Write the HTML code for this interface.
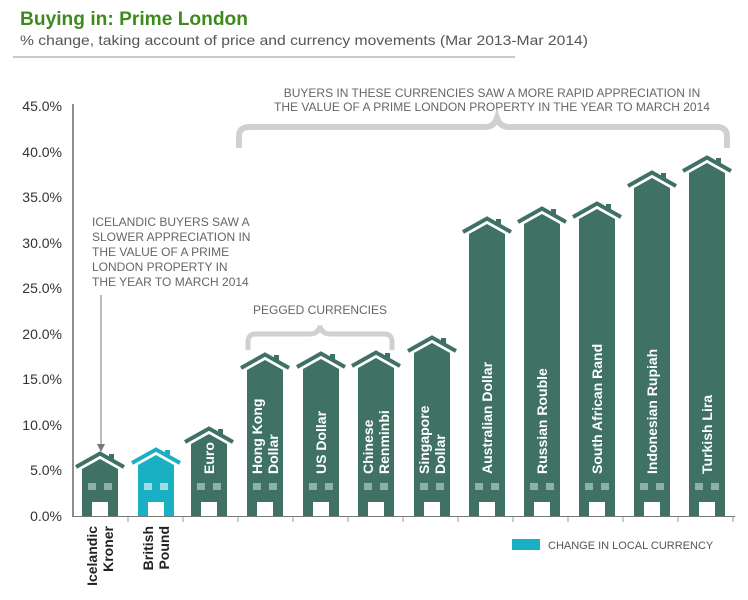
<!DOCTYPE html>
<html><head><meta charset="utf-8"><style>
body{margin:0;background:#fff;}
svg{display:block;font-family:"Liberation Sans",sans-serif;}
</style></head><body>
<svg width="748" height="600" viewBox="0 0 748 600">
<text x="20" y="25" font-size="19" font-weight="bold" fill="#3f8a1f" textLength="228" lengthAdjust="spacingAndGlyphs">Buying in: Prime London</text>
<text x="20" y="45" font-size="14" fill="#555" textLength="568" lengthAdjust="spacingAndGlyphs">% change, taking account of price and currency movements (Mar 2013-Mar 2014)</text>
<rect x="13" y="56" width="502" height="2" fill="#c8c8c8"/>
<g font-size="14" fill="#333" text-anchor="end">
<text x="62" y="111">45.0%</text><text x="62" y="157">40.0%</text><text x="62" y="202">35.0%</text>
<text x="62" y="248">30.0%</text><text x="62" y="293">25.0%</text><text x="62" y="339">20.0%</text>
<text x="62" y="384">15.0%</text><text x="62" y="430">10.0%</text><text x="62" y="475">5.0%</text>
<text x="62" y="521">0.0%</text>
</g>
<line x1="73" y1="104" x2="73" y2="517" stroke="#444" stroke-width="1.2"/>
<line x1="73" y1="516.5" x2="735" y2="516.5" stroke="#777" stroke-width="1"/>
<g stroke="#999" stroke-width="1">
<line x1="128" y1="517" x2="128" y2="522"/><line x1="183" y1="517" x2="183" y2="522"/><line x1="238" y1="517" x2="238" y2="522"/>
<line x1="293" y1="517" x2="293" y2="522"/><line x1="348" y1="517" x2="348" y2="522"/><line x1="403" y1="517" x2="403" y2="522"/>
<line x1="458" y1="517" x2="458" y2="522"/><line x1="513" y1="517" x2="513" y2="522"/><line x1="568" y1="517" x2="568" y2="522"/>
<line x1="623" y1="517" x2="623" y2="522"/><line x1="678" y1="517" x2="678" y2="522"/><line x1="733" y1="517" x2="733" y2="522"/>
</g>
<g id="bars"></g>
<!-- annotations -->
<g font-size="12" fill="#666">
<text x="92" y="226">ICELANDIC BUYERS SAW A</text>
<text x="92" y="241">SLOWER APPRECIATION IN</text>
<text x="92" y="256">THE VALUE OF A PRIME</text>
<text x="92" y="271">LONDON PROPERTY IN</text>
<text x="92" y="286">THE YEAR TO MARCH 2014</text>
<text x="320" y="314" text-anchor="middle">PEGGED CURRENCIES</text>
<text x="492" y="97" text-anchor="middle">BUYERS IN THESE CURRENCIES SAW A MORE RAPID APPRECIATION IN</text>
<text x="492" y="111" text-anchor="middle">THE VALUE OF A PRIME LONDON PROPERTY IN THE YEAR TO MARCH 2014</text>
</g>
<line x1="101" y1="295" x2="101" y2="448" stroke="#777" stroke-width="1"/>
<polygon points="97,444 105,444 101,452" fill="#777"/>
<path d="M248,350 V342 Q248,334 256,334 H310 Q318,334 320,326 Q322,334 330,334 H384 Q392,334 392,342 V350" fill="none" stroke="#d0d0d0" stroke-width="5"/>
<path d="M239,148 V136 Q239,127 250,127 H485 Q494,127 497,118 Q500,127 509,127 H716 Q727,127 727,136 V148" fill="none" stroke="#d0d0d0" stroke-width="6"/>
<rect x="512" y="539" width="28" height="11" fill="#1ab0c4"/>
<text x="548" y="549" font-size="11" fill="#555">CHANGE IN LOCAL CURRENCY</text>
<g font-size="14" font-weight="bold" fill="#222" id="xl"></g>
</svg>
<script>
var bars=[[100,452,"#3f7265",[]],[156,448,"#1ab0c4",[]],[209,427,"#3f7265",["Euro"]],
[265,353,"#3f7265",["Hong Kong","Dollar"]],[321,352,"#3f7265",["US Dollar"]],[376,351,"#3f7265",["Chinese","Renminbi"]],
[432,336,"#3f7265",["Singapore","Dollar"]],[487,217,"#3f7265",["Australian Dollar"]],[542,207,"#3f7265",["Russian Rouble"]],
[597,202,"#3f7265",["South African Rand"]],[652,171,"#3f7265",["Indonesian Rupiah"]],[707,156,"#3f7265",["Turkish Lira"]]];
var s="",NS="http://www.w3.org/2000/svg";
bars.forEach(function(b){var cx=b[0],p=b[1],c=b[2],x0=cx-18,x1=cx+18,bt=p+17,bp=p+7;
var win=c=="#1ab0c4"?"#9fdbe4":"#8db0a7";
s+='<polygon points="'+x0+','+bt+' '+cx+','+bp+' '+x1+','+bt+' '+x1+',516 '+x0+',516" fill="'+c+'"/>';
s+='<rect x="'+(cx+9)+'" y="'+(p+2)+'" width="5" height="7" fill="'+c+'"/>';
s+='<polyline points="'+(x0-6)+','+(bt-2)+' '+cx+','+(p+1.5)+' '+(x1+6)+','+(bt-2)+'" fill="none" stroke="'+c+'" stroke-width="4"/>';
s+='<rect x="'+(cx-12)+'" y="483" width="8" height="7" fill="'+win+'"/><rect x="'+(cx+4)+'" y="483" width="8" height="7" fill="'+win+'"/>';
s+='<rect x="'+(cx-8)+'" y="502" width="16" height="14" fill="#fff"/>';
var L=b[3],n=L.length;
L.forEach(function(t,i){var xx=cx+5+(i-(n-1)/2)*16;
s+='<text transform="translate('+xx+',474) rotate(-90)" font-size="14" font-weight="bold" fill="#fff">'+t+'</text>';});
});
document.getElementById("bars").innerHTML=s;
var xl=[[100,["Icelandic","Kroner"]],[156,["British","Pound"]]],t="";
xl.forEach(function(a){a[1].forEach(function(w,i){var xx=a[0]+(i-0.5)*16+5;
t+='<text transform="translate('+xx+',526) rotate(-90)" text-anchor="end">'+w+'</text>';});});
document.getElementById("xl").innerHTML=t;
</script>
</body></html>
